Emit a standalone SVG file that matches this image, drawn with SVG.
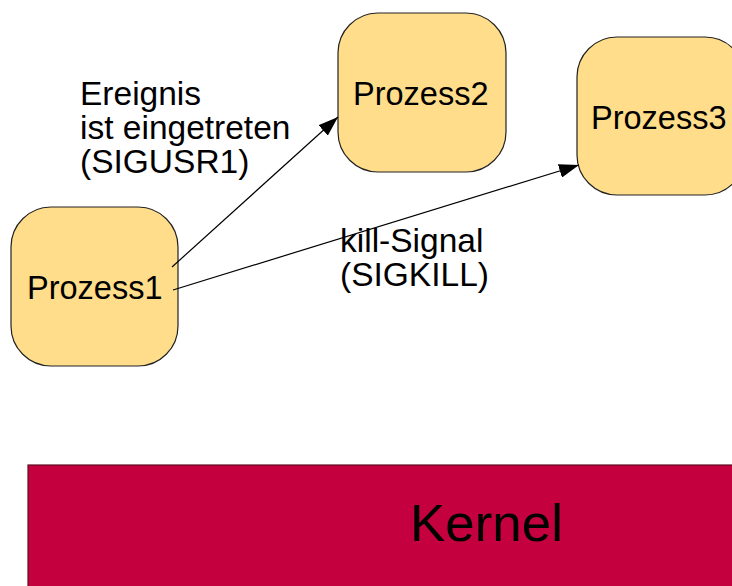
<svg xmlns="http://www.w3.org/2000/svg" width="732" height="586" viewBox="0 0 732 586">
<style>
.node{fill:#FFDD8A;stroke:#222;stroke-width:1.2}
.t{font-family:"Liberation Sans",Arial,sans-serif;font-size:32.5px;fill:#000}
.l{font-family:"Liberation Sans",Arial,sans-serif;font-size:33.5px;fill:#000}
.edge{stroke:#000;stroke-width:1.2;fill:none}
</style>
<defs>
<marker id="ah" markerWidth="20" markerHeight="14" refX="20" refY="7" orient="auto" markerUnits="userSpaceOnUse">
<path d="M0,0 L20,7 L0,14 Z" fill="#000"/>
</marker>
</defs>
<rect width="732" height="586" fill="#fff"/>
<g id="kernel">
<rect x="28" y="465" width="720" height="140" fill="#C4003F" stroke="#5a1020" stroke-width="1.2"/>
<text x="410" y="541" font-family="Liberation Sans,Arial,sans-serif" font-size="52" textLength="153" lengthAdjust="spacingAndGlyphs">Kernel</text>
</g>
<g id="prozess1">
<rect class="node" x="11" y="207" width="167" height="159" rx="40" ry="40"/>
<text class="t" x="27" y="299">Prozess1</text>
</g>
<g id="prozess2">
<rect class="node" x="338" y="13" width="168" height="159" rx="40" ry="40"/>
<text class="t" x="353" y="105">Prozess2</text>
</g>
<g id="prozess3">
<rect class="node" x="577" y="37" width="168" height="158" rx="40" ry="40"/>
<text class="t" x="591" y="129">Prozess3</text>
</g>
<g id="connectors">
<line class="edge" x1="172" y1="267" x2="338" y2="117" marker-end="url(#ah)"/>
<line class="edge" x1="173" y1="290" x2="579" y2="165" marker-end="url(#ah)"/>
</g>
<g id="labels">
<text class="l"><tspan x="80" y="105">Ereignis</tspan><tspan x="80" y="139">ist eingetreten</tspan><tspan x="80" y="173">(SIGUSR1)</tspan></text>
<text class="l"><tspan x="340" y="252">kill-Signal</tspan><tspan x="340" y="286">(SIGKILL)</tspan></text>
</g>
</svg>
